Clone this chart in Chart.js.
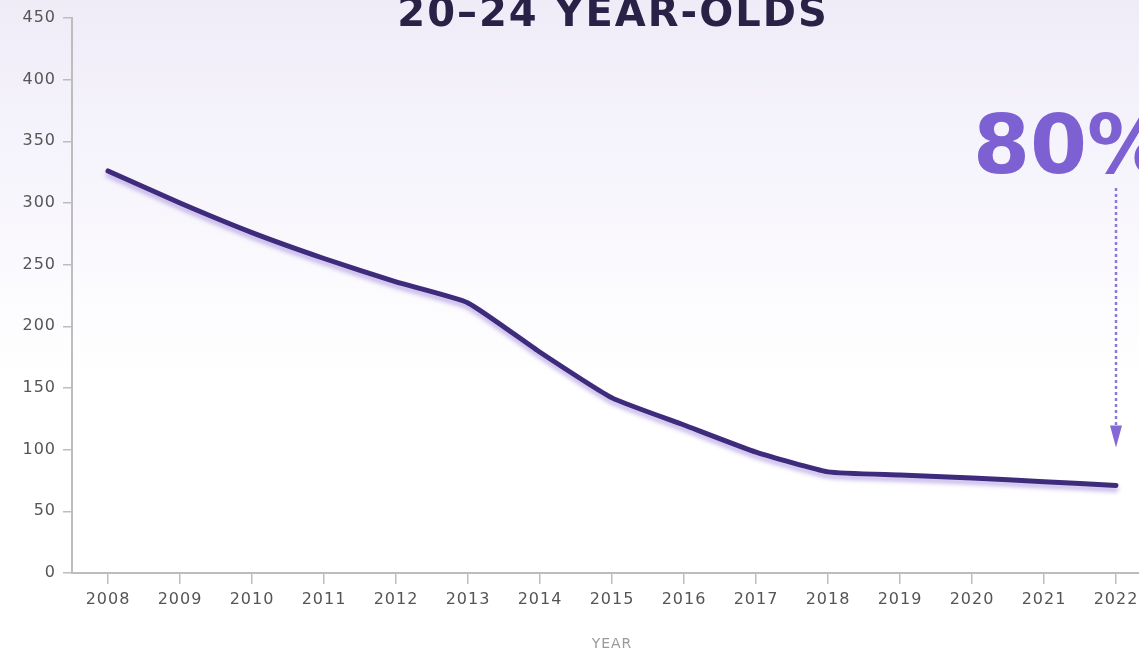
<!DOCTYPE html>
<html>
<head>
<meta charset="utf-8">
<script src="https://cdn.jsdelivr.net/npm/chart.js"></script>
<style>
  html, body { margin: 0; padding: 0; overflow: hidden; width: 1139px; height: 652px; }
  body { background: linear-gradient(to bottom, #efecf8 0px, #f7f5fc 180px, #ffffff 380px); }
  #wrap { width: 1160px; height: 652px; }
</style>
</head>
<body>
<div id="wrap"><canvas id="c" width="1160" height="652"></canvas></div>
<script>
const years = ['2008','2009','2010','2011','2012','2013','2014','2015','2016','2017','2018','2019','2020','2021','2022'];
const values = [326, 300, 276, 255, 236, 219, 179, 142, 120, 98, 82, 79.5, 77, 74, 71];
const yTicks = [0, 50, 100, 150, 200, 250, 300, 350, 400, 450];
const titleText = '20–24 YEAR-OLDS';
const xTitle = 'YEAR';
const calloutText = '80%';

const axisColor = '#bdbdbd';
const labelFont = { family: '"DejaVu Sans", sans-serif', size: 16 };

const deco = {
  id: 'deco',
  beforeDraw(chart) {
    chart.ctx.letterSpacing = '1px';
  },
  beforeDatasetDraw(chart) {
    const ctx = chart.ctx;
    ctx.save();
    ctx.shadowColor = 'rgba(150,120,215,0.55)';
    ctx.shadowOffsetY = 4;
    ctx.shadowBlur = 4;
  },
  afterDatasetDraw(chart) {
    chart.ctx.restore();
  },
  afterDraw(chart) {
    const ctx = chart.ctx;
    const area = chart.chartArea;
    const meta = chart.getDatasetMeta(0);
    const last = meta.data[meta.data.length - 1];
    ctx.save();
    // title
    ctx.fillStyle = '#2a2147';
    ctx.letterSpacing = '2px';
    ctx.font = 'bold 40px "DejaVu Sans", sans-serif';
    ctx.textAlign = 'center';
    ctx.textBaseline = 'alphabetic';
    ctx.fillText(titleText, (area.left + area.right) / 2 + 1, 26);
    // callout
    ctx.letterSpacing = '0px';
    ctx.fillStyle = '#7d60d2';
    ctx.font = 'bold 82px "DejaVu Sans", sans-serif';
    ctx.textAlign = 'left';
    ctx.fillText(calloutText, last.x - 143, 173);
    // dotted arrow
    const tipY = last.y - 38;
    ctx.strokeStyle = '#8e78d6';
    ctx.lineWidth = 2.5;
    ctx.setLineDash([3, 3]);
    ctx.beginPath();
    ctx.moveTo(last.x, 188);
    ctx.lineTo(last.x, tipY - 18);
    ctx.stroke();
    ctx.setLineDash([]);
    ctx.fillStyle = '#8468d4';
    ctx.beginPath();
    ctx.moveTo(last.x - 6, tipY - 22);
    ctx.lineTo(last.x + 6, tipY - 22);
    ctx.lineTo(last.x, tipY);
    ctx.closePath();
    ctx.fill();
    ctx.restore();
  }
};

new Chart(document.getElementById('c'), {
  type: 'line',
  data: {
    labels: years,
    datasets: [{
      data: values,
      borderColor: '#3f2b7c',
      borderWidth: 5,
      pointRadius: 0,
      tension: 0.15,
      borderCapStyle: 'round',
      borderJoinStyle: 'round',
      fill: false
    }]
  },
  options: {
    responsive: false,
    animation: false,
    devicePixelRatio: 1,
    layout: { padding: { top: 18, right: 8, left: 0, bottom: 0 } },
    plugins: { legend: { display: false }, tooltip: { enabled: false }, title: { display: false } },
    scales: {
      x: {
        offset: true,
        afterFit(s) { s.height = 79; },
        grid: { drawOnChartArea: false, drawTicks: true, tickLength: 11, color: axisColor, lineWidth: 1.5, offset: false },
        border: { color: axisColor, width: 2 },
        ticks: { color: '#555', font: labelFont, padding: 6, maxRotation: 0, autoSkip: false },
        title: { display: true, text: xTitle, color: '#9a9a9a', font: { family: '"DejaVu Sans", sans-serif', size: 14 }, padding: { top: 0, bottom: -1 } }
      },
      y: {
        min: 0, max: 450,
        afterFit(s) { s.width = 72; },
        afterBuildTicks(s) { s.ticks = yTicks.map(v => ({ value: v })); },
        grid: { drawOnChartArea: false, drawTicks: true, tickLength: 9, color: axisColor, lineWidth: 1.5 },
        border: { color: axisColor, width: 2 },
        ticks: { color: '#555', font: labelFont, padding: 7 }
      }
    }
  },
  plugins: [deco]
});
</script>
</body>
</html>
